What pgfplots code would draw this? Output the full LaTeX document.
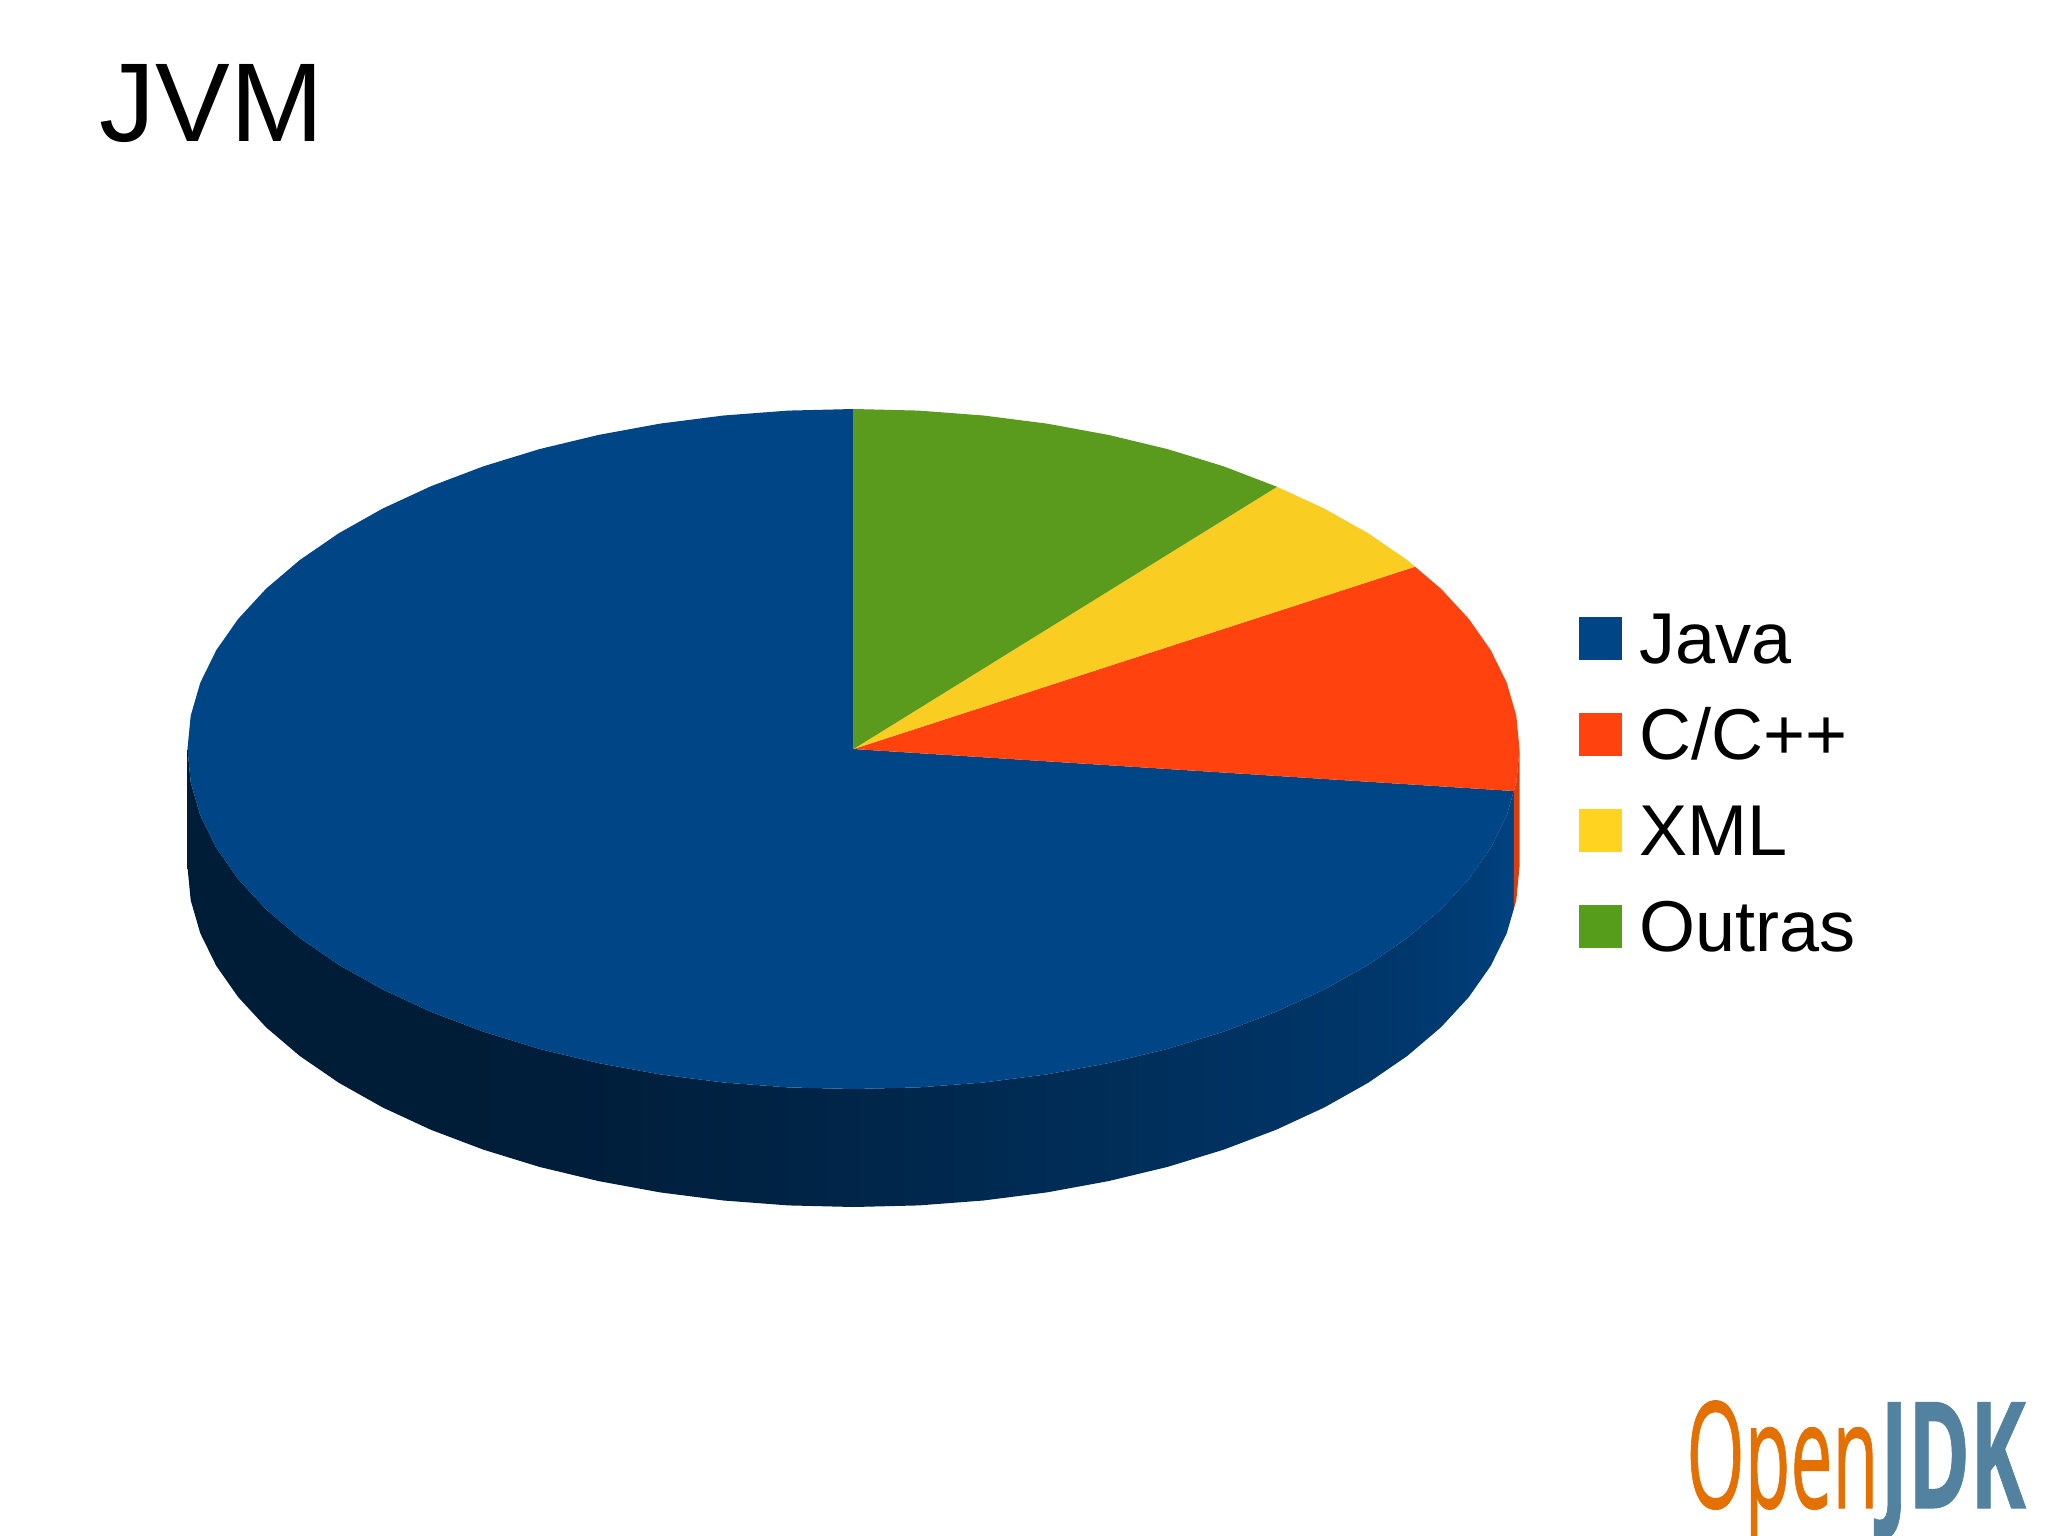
\documentclass[border=0pt]{standalone}
\usepackage{fontspec}
\setmainfont{Liberation Sans}
\newfontfamily\logofont[FakeBold=0.8]{Open Sans}
\usepackage{pgfplots}
\pgfplotsset{compat=1.18}

\definecolor{java}{HTML}{004586}
\definecolor{cpp}{HTML}{FF420E}
\definecolor{xml}{HTML}{FFD320}
\definecolor{xmltop}{HTML}{FACD22}
\definecolor{outras}{HTML}{579D1C}
\definecolor{outrastop}{HTML}{5A9A1C}
\definecolor{cppside}{HTML}{DB3E0D}
\definecolor{logoorange}{HTML}{E37000}
\definecolor{logoblue}{HTML}{5382A1}

% light falling off along the outer wall, the path's box runs from 25bp to 75bp
\pgfdeclarehorizontalshading{wallshade}{100bp}{
  color(0bp)=(java!42!black); color(36bp)=(java!42!black);
  color(40.5bp)=(java!44!black); color(50.1bp)=(java!54!black);
  color(59.7bp)=(java!66!black); color(66bp)=(java!74!black);
  color(69.5bp)=(java!78!black); color(72.3bp)=(java!84!black);
  color(74.1bp)=(java!90!black); color(75bp)=(java!97!black);
  color(100bp)=(java!97!black)}

\begin{document}
\begin{tikzpicture}
\path[use as bounding box] (0,0) rectangle (1024pt,767.5pt);
\begin{axis}[
  at={(0,0)},anchor=south west,
  scale only axis,width=1024pt,height=767.5pt,
  xmin=0,xmax=2048,ymin=0,ymax=1535,y dir=reverse,
  hide axis,clip=false,
  title=JVM,
  title style={at={(axis description cs:0.0483,0.9001)},anchor=base west,inner sep=0pt,
    font=\fontsize{56}{62}\selectfont},
  legend image code/.code={\fill[draw=none,#1] (0pt,-10.75pt) rectangle (21.5pt,10.75pt);},
  legend cell align=left,
  legend style={at={(axis description cs:0.771,0.6014)},anchor=north west,
    draw=none,fill=none,inner sep=0pt,outer sep=0pt,
    font=\fontsize{36}{42}\selectfont,row sep=21pt,
    nodes={inner sep=0pt,text height=26pt,text depth=1pt},
    /tikz/every odd column/.append style={column sep=8.5pt}},
]

% outer wall
\addplot[forget plot,shading=wallshade,draw=none] coordinates {
  (1513.8,791) (1506.7,815.3) (1490.8,847.7) (1468.8,879.1) (1440.9,909.3)
  (1407.3,937.9) (1368.3,964.7) (1324.4,989.4) (1276,1011.8) (1223.5,1031.7) (1167.5,1048.9)
  (1108.4,1063.1) (1046.8,1074.4) (983.4,1082.5) (918.8,1087.4) (853.5,1089) (788.2,1087.4)
  (723.6,1082.5) (660.2,1074.4) (598.6,1063.1) (539.5,1048.9) (483.5,1031.7) (431,1011.8)
  (382.6,989.4) (338.7,964.7) (299.7,937.9) (266.1,909.3) (238.2,879.1) (216.2,847.7)
  (200.3,815.3) (190.7,782.3) (187.5,749) (187.5,867)
  (190.7,900.3) (200.3,933.3) (216.2,965.7) (238.2,997.1) (266.1,1027.3) (299.7,1055.9)
  (338.7,1082.7) (382.6,1107.4) (431,1129.8) (483.5,1149.7) (539.5,1166.9) (598.6,1181.1)
  (660.2,1192.4) (723.6,1200.5) (788.2,1205.4) (853.5,1207) (918.8,1205.4) (983.4,1200.5)
  (1046.8,1192.4) (1108.4,1181.1) (1167.5,1166.9) (1223.5,1149.7) (1276,1129.8)
  (1324.4,1107.4) (1368.3,1082.7) (1407.3,1055.9) (1440.9,1027.3) (1468.8,997.1)
  (1490.8,965.7) (1506.7,933.3) (1513.8,909)} --cycle;

% C/C++ sliver of the wall
\addplot[forget plot,fill=cppside,draw=none] coordinates {
  (1519.5,749) (1516.3,782.3) (1513.8,791) (1513.8,909) (1516.3,900.3) (1519.5,867)} --cycle;

% top face
\addplot[forget plot,fill=java,draw=none] coordinates {
  (853.5,749) (1513.8,791) (1506.7,815.3) (1490.8,847.7) (1468.8,879.1) (1440.9,909.3)
  (1407.3,937.9) (1368.3,964.7) (1324.4,989.4) (1276,1011.8) (1223.5,1031.7) (1167.5,1048.9)
  (1108.4,1063.1) (1046.8,1074.4) (983.4,1082.5) (918.8,1087.4) (853.5,1089) (788.2,1087.4)
  (723.6,1082.5) (660.2,1074.4) (598.6,1063.1) (539.5,1048.9) (483.5,1031.7) (431,1011.8)
  (382.6,989.4) (338.7,964.7) (299.7,937.9) (266.1,909.3) (238.2,879.1) (216.2,847.7)
  (200.3,815.3) (190.7,782.3) (187.5,749) (190.7,715.7) (200.3,682.7) (216.2,650.3)
  (238.2,618.9) (266.1,588.7) (299.7,560.1) (338.7,533.3) (382.6,508.6) (431,486.2)
  (483.5,466.3) (539.5,449.1) (598.6,434.9) (660.2,423.6) (723.6,415.5) (788.2,410.6)
  (853.5,409)} --cycle;
\addplot[forget plot,fill=cpp,draw=none] coordinates {
  (853.5,749) (1415,566.7) (1440.9,588.7) (1468.8,618.9) (1490.8,650.3) (1506.7,682.7)
  (1516.3,715.7) (1519.5,749) (1516.3,782.3) (1513.8,791)} --cycle;
\addplot[forget plot,fill=xmltop,draw=none] coordinates {
  (853.5,749) (1277,486.8) (1324.4,508.6) (1368.3,533.3) (1407.3,560.1) (1415,566.7)} --cycle;
\addplot[forget plot,fill=outrastop,draw=none] coordinates {
  (853.5,749) (853.5,409) (918.8,410.6) (983.4,415.5) (1046.8,423.6) (1108.4,434.9)
  (1167.5,449.1) (1223.5,466.3) (1277,486.8)} --cycle;

\addlegendimage{fill=java}
\addlegendentry{Java}
\addlegendimage{fill=cpp}
\addlegendentry{C/C++}
\addlegendimage{fill=xml}
\addlegendentry{XML}
\addlegendimage{fill=outras}
\addlegendentry{Outras}

% logo
\node[anchor=base west,inner sep=0pt,text=logoorange,font=\logofont\fontsize{74}{80}\selectfont]
  at (axis cs:1686,1508) {\scalebox{0.505}[1]{Open}};
\node[anchor=base west,inner sep=0pt,text=logoblue,font=\logofont\bfseries\fontsize{74}{80}\selectfont]
  at (axis cs:1880,1508) {\scalebox{0.566}[1]{JDK}};
\end{axis}
\end{tikzpicture}
\end{document}
